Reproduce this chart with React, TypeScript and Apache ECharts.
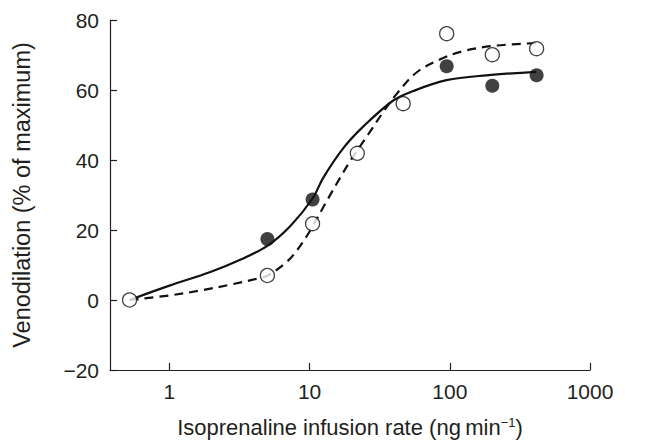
import React, { useEffect, useRef } from "react";
import * as echarts from "echarts";

// Data
const filledPoints: [number, number][] = [
  [5.0, 17.4],
  [10.5, 28.7],
  [95, 66.8],
  [201, 61.2],
  [416, 64.2],
];
const openPoints: [number, number][] = [
  [0.52, 0],
  [5.0, 7.0],
  [10.5, 21.8],
  [21.9, 41.9],
  [46.5, 56.1],
  [95, 76.1],
  [201, 70.1],
  [416, 71.8],
];
const solidCurve: [number, number][] = [
  [0.52, 0], [1, 4.1], [1.96, 8.0], [3.2, 11.5], [4.96, 15.4], [7.27, 21.1],
  [10.5, 29.0], [12.5, 34.9], [17.4, 43.4], [24.2, 49.6], [39.5, 57.0],
  [54.8, 59.7], [94.8, 62.8], [182, 64.2], [414, 65.2],
];
const dashedCurve: [number, number][] = [
  [0.52, 0], [1, 1.3], [1.71, 2.8], [2.72, 4.4], [4.44, 6.3], [5.04, 7.0],
  [6.51, 10.1], [7.67, 12.9], [9.8, 19.0], [13.3, 28.4], [16.5, 34.9],
  [19.4, 39.6], [24.2, 45.3], [27, 48.1], [33.5, 53.7], [41.8, 58.9],
  [57.9, 65], [84.9, 68.7], [124, 71.1], [215, 72.7], [414, 73.4],
];
const xTickLabels = ["1", "10", "100", "1000"];
const xMin = 0.377;
const xMax = 1000;
const yMin = -20;
const yMax = 80;
const yInterval = 20;
const xTitle = "Isoprenaline infusion rate (ng\u2009min{sup|\u22121})";
const yTitle = "Venodilation (% of maximum)";

const TEXT = "#231f20";
const FONT = "'Liberation Sans', Arial, Helvetica, sans-serif";

export default function App() {
  const ref = useRef<HTMLDivElement>(null);
  useEffect(() => {
    if (!ref.current) return;
    const chart = echarts.init(ref.current, undefined, { renderer: "svg" });
    chart.setOption({
      animation: false,
      backgroundColor: "#ffffff",
      textStyle: { fontFamily: FONT },
      grid: { left: 110, right: 57, top: 20, bottom: 68, containLabel: false },
      xAxis: {
        type: "log",
        logBase: 10,
        min: xMin,
        max: xMax,
        name: xTitle,
        nameLocation: "middle",
        nameGap: 46,
        nameTextStyle: {
          fontSize: 22,
          color: TEXT,
          fontFamily: FONT,
          rich: {
            sup: { fontSize: 13, verticalAlign: "top", lineHeight: 14, color: TEXT, fontFamily: FONT },
          },
        },
        axisLine: { onZero: false, lineStyle: { color: "#231f20", width: 1.2 } },
        axisTick: { inside: true, length: 7, lineStyle: { color: "#231f20", width: 1.2 } },
        axisLabel: {
          fontSize: 21,
          color: TEXT,
          fontFamily: FONT,
          margin: 11,
          showMinLabel: false,
          formatter: (v: number) => {
            const s = String(Math.round(v));
            return Math.abs(v - Math.round(v)) < 1e-6 && xTickLabels.includes(s) ? s : "";
          },
        },
        splitLine: { show: false },
        minorTick: { show: false },
      },
      yAxis: {
        type: "value",
        min: yMin,
        max: yMax,
        interval: yInterval,
        name: yTitle,
        nameLocation: "middle",
        nameGap: 76,
        nameTextStyle: { fontSize: 23.5, color: TEXT, fontFamily: FONT },
        axisLine: { show: true, onZero: false, lineStyle: { color: "#231f20", width: 1.2 } },
        axisTick: { show: true, inside: true, length: 7, lineStyle: { color: "#231f20", width: 1.2 } },
        axisLabel: {
          fontSize: 21,
          color: TEXT,
          fontFamily: FONT,
          margin: 11,
          formatter: (v: number) => (v < 0 ? "\u2212" + Math.abs(v) : String(v)),
        },
        splitLine: { show: false },
      },
      series: [
        {
          type: "line",
          data: solidCurve,
          smooth: 0.35,
          symbol: "none",
          lineStyle: { color: "#111111", width: 2.2 },
          z: 2,
        },
        {
          type: "line",
          data: dashedCurve,
          smooth: 0.35,
          symbol: "none",
          lineStyle: { color: "#111111", width: 2.2, type: [9, 6] },
          z: 2,
        },
        {
          type: "scatter",
          data: filledPoints,
          symbol: "circle",
          symbolSize: 14,
          itemStyle: { color: "#111111" },
          z: 3,
        },
        {
          type: "scatter",
          data: openPoints,
          symbol: "circle",
          symbolSize: 14,
          itemStyle: { color: "#ffffff", borderColor: "#111111", borderWidth: 1.3 },
          z: 4,
        },
      ],
    });
    return () => chart.dispose();
  }, []);
  return (
    <div
      ref={ref}
      style={{ position: "absolute", left: 0, top: 0, width: 647, height: 443, background: "#fff" }}
    />
  );
}
